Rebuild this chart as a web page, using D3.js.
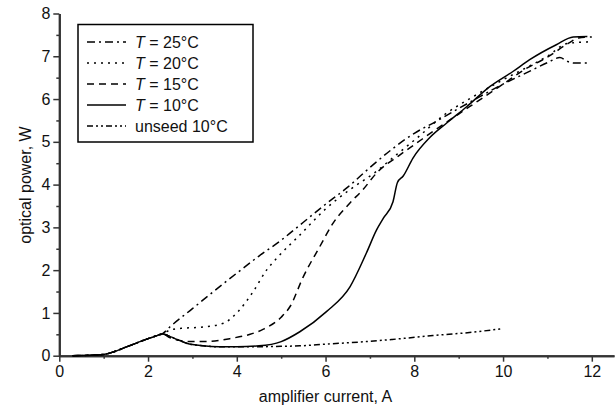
<!DOCTYPE html>
<html>
<head>
<meta charset="utf-8">
<script src="https://cdn.jsdelivr.net/npm/d3@7"></script>
<style>
  body { margin: 0; background: #fff; }
  svg text { font-family: "Liberation Sans", Arial, sans-serif; fill: #111; }
</style>
</head>
<body>
<svg id="chart" width="616" height="408"></svg>
<script>
// values: [amplifier current A, optical power W]
const rise = [[0.3, 0], [1.0, 0.03], [1.25, 0.1], [1.5, 0.2], [1.75, 0.3], [2.0, 0.4], [2.2, 0.47], [2.32, 0.51]]

const t25 = rise.concat([[2.5, 0.68], [3.0, 1.1], [3.5, 1.52], [4.0, 1.93], [4.5, 2.33], [5.0, 2.7],
  [5.5, 3.12], [6.0, 3.54], [6.5, 3.94], [7.0, 4.4], [7.5, 4.83], [8.0, 5.2], [8.5, 5.48], [9.0, 5.78],
  [9.5, 6.07], [10.0, 6.35], [10.5, 6.6], [11.0, 6.85], [11.28, 6.97], [11.45, 6.88], [11.6, 6.84], [11.9, 6.84]])

const t20 = rise.concat([[2.5, 0.6], [2.75, 0.64], [3.25, 0.67], [3.7, 0.76], [4.0, 1.0], [4.37, 1.5],
  [4.67, 2.0], [4.9, 2.28], [5.4, 2.8], [6.0, 3.43], [6.6, 3.92], [7.07, 4.25], [7.6, 4.7], [8.05, 5.08],
  [8.7, 5.65], [9.3, 6.04], [10.0, 6.45], [10.5, 6.72], [11.0, 7.0], [11.45, 7.3], [12.0, 7.34]])

const t15 = rise.concat([[2.5, 0.42], [2.65, 0.37], [3.0, 0.33], [3.3, 0.33], [3.9, 0.41], [4.3, 0.5],
  [4.6, 0.62], [5.0, 0.9], [5.2, 1.15], [5.5, 1.85], [5.87, 2.55], [6.17, 3.1], [6.55, 3.57], [6.84, 3.88],
  [7.15, 4.27], [7.67, 4.69], [8.05, 4.97], [8.5, 5.3], [9.0, 5.65], [9.5, 6.0], [10.0, 6.35], [10.5, 6.7],
  [11.0, 6.98], [11.5, 7.32], [11.7, 7.43], [12.0, 7.45]])

const t10 = rise.concat([[2.45, 0.47], [2.65, 0.38], [2.87, 0.29], [3.24, 0.23], [3.6, 0.21], [4.0, 0.21],
  [4.5, 0.23], [5.0, 0.33], [5.42, 0.56], [6.02, 1.03], [6.55, 1.61], [6.92, 2.4], [7.15, 2.94], [7.3, 3.21],
  [7.52, 3.6], [7.62, 4.05], [7.75, 4.2], [7.97, 4.62], [8.35, 5.1], [8.73, 5.44], [9.18, 5.82], [9.7, 6.29],
  [10.23, 6.65], [10.6, 6.92], [11.2, 7.27], [11.58, 7.45], [11.9, 7.46]])

const unseed = rise.concat([[2.45, 0.47], [2.65, 0.38], [2.87, 0.29], [3.24, 0.23], [3.6, 0.21], [4.0, 0.21],
  [4.5, 0.21], [5.0, 0.22], [5.42, 0.23], [6.0, 0.27], [6.92, 0.33], [7.5, 0.38], [8.42, 0.47], [9.32, 0.55],
  [9.96, 0.63]])

const seriesNames = ["25", "20", "15", "10", "unseed"]
const legendLabels = ["T = 25°C", "T = 20°C", "T = 15°C", "T = 10°C", "unseed 10°C"]
const xTicks = [0, 2, 4, 6, 8, 10, 12]
const xMinor = [1, 3, 5, 7, 9, 11]
const yTicks = [0, 1, 2, 3, 4, 5, 6, 7, 8]
const yMinor = [0.5, 1.5, 2.5, 3.5, 4.5, 5.5, 6.5, 7.5]

const seriesData = { "25": t25, "20": t20, "15": t15, "10": t10, "unseed": unseed }
const dashes = { "25": "8,4,2,4", "20": "2,5", "15": "7,5", "10": null, "unseed": "6,3,2,3,2,3" }

const svg = d3.select("#chart")

const x = d3.scaleLinear().domain([0, 12.5]).range([59.3, 614])
const y = d3.scaleLinear().domain([0, 8]).range([355.7, 13.5])

// axes
function styleAxis(g) {
  g.select(".domain").attr("stroke", "#333").attr("stroke-width", 2)
  g.selectAll(".tick line").attr("stroke", "#333").attr("stroke-width", 1.5)
  g.selectAll(".tick text").attr("font-size", 16).attr("fill", "#111")
    .attr("font-family", "Liberation Sans, Arial, sans-serif")
}

svg.append("g")
  .attr("transform", "translate(0," + y(0) + ")")
  .call(d3.axisBottom(x).tickValues(xMinor).tickSize(3).tickSizeOuter(0).tickFormat(""))
  .call(styleAxis)
svg.append("g")
  .attr("transform", "translate(0," + y(0) + ")")
  .call(d3.axisBottom(x).tickValues(xTicks).tickSize(6).tickPadding(4).tickSizeOuter(0).tickFormat(d3.format("d")))
  .call(styleAxis)

svg.append("g")
  .attr("transform", "translate(" + x(0) + ",0)")
  .call(d3.axisLeft(y).tickValues(yMinor).tickSize(3).tickSizeOuter(0).tickFormat(""))
  .call(styleAxis)
svg.append("g")
  .attr("transform", "translate(" + x(0) + ",0)")
  .call(d3.axisLeft(y).tickValues(yTicks).tickSize(6).tickPadding(3).tickSizeOuter(0).tickFormat(d3.format("d")))
  .call(styleAxis)

// axis titles
svg.append("text")
  .attr("x", x(6))
  .attr("y", 402)
  .attr("text-anchor", "middle")
  .attr("font-size", 16)
  .text("amplifier current, A")

svg.append("text")
  .attr("transform", "translate(31,185) rotate(-90)")
  .attr("text-anchor", "middle")
  .attr("font-size", 16)
  .text("optical power, W")

// curves
const line = d3.line()
  .x(d => x(d[0]))
  .y(d => y(d[1]))
  .curve(d3.curveMonotoneX)

seriesNames.forEach(function(name) {
  svg.append("path")
    .datum(seriesData[name])
    .attr("d", line)
    .attr("fill", "none")
    .attr("stroke", "#000")
    .attr("stroke-width", 1.5)
    .attr("stroke-dasharray", dashes[name])
})

// legend
const legend = svg.append("g")
legend.append("rect")
  .attr("x", 78).attr("y", 24.5)
  .attr("width", 175).attr("height", 117.5)
  .attr("fill", "#fff")
  .attr("stroke", "#000")
  .attr("stroke-width", 1.5)

seriesNames.forEach(function(name, i) {
  let ly = 42 + i * 21
  legend.append("line")
    .attr("x1", 87).attr("x2", 126)
    .attr("y1", ly).attr("y2", ly)
    .attr("stroke", "#000")
    .attr("stroke-width", 1.5)
    .attr("stroke-dasharray", dashes[name])
  let t = legend.append("text")
    .attr("x", 135)
    .attr("y", ly + 5.5)
    .attr("font-size", 16)
  if (name == "unseed") {
    t.text(legendLabels[i])
  } else {
    t.append("tspan").attr("font-style", "italic").text("T")
    t.append("tspan").text(legendLabels[i].slice(1))
  }
})
</script>
</body>
</html>
